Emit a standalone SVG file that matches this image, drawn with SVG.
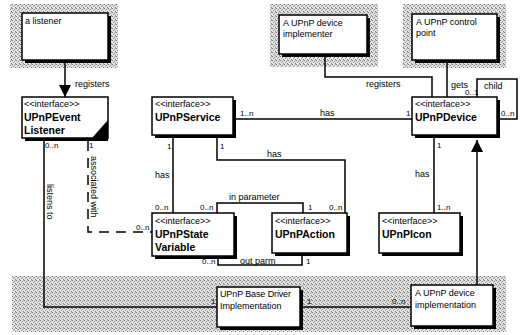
<svg xmlns="http://www.w3.org/2000/svg" width="526" height="335" viewBox="0 0 526 335">
<defs>
<pattern id="dither" width="4" height="4" patternUnits="userSpaceOnUse">
<rect width="4" height="4" fill="#e4e4e4"/>
<rect x="0" y="0" width="1" height="1" fill="#777"/>
<rect x="2" y="1" width="1" height="1" fill="#8c8c8c"/>
<rect x="1" y="2" width="1" height="1" fill="#9a9a9a"/>
<rect x="3" y="3" width="1" height="1" fill="#808080"/>
<rect x="3" y="0" width="1" height="1" fill="#b0b0b0"/>
</pattern>
<marker id="fill" viewBox="0 0 12 12" refX="12" refY="6" markerWidth="12" markerHeight="12" markerUnits="userSpaceOnUse" orient="auto">
<path d="M0,0 L12,6 L0,12 Z" fill="black"/>
</marker>
</defs>
<style>
.bg{fill:url(#dither)}
.sh{fill:#000}
.box{fill:#fff;stroke:#000;stroke-width:1.5}
.ln{fill:none;stroke:#000;stroke-width:1.5}
.dash{fill:none;stroke:#000;stroke-width:1.5;stroke-dasharray:10 7}
text{font-family:"Liberation Sans",Arial,sans-serif;font-size:9px;fill:#000}
.b{font-weight:bold;font-size:10.5px}
.m{font-size:8px}
</style>
<rect width="526" height="335" fill="#fff"/>
<g id="backgrounds">
<rect class="bg" x="10" y="4" width="108" height="64"/>
<rect class="bg" x="270" y="4" width="108" height="63"/>
<rect class="bg" x="403" y="4" width="103" height="64"/>
<rect class="bg" x="12" y="276" width="494" height="56"/>
</g>
<g id="connectors">
<line class="ln" x1="65" y1="63" x2="65" y2="97" marker-end="url(#fill)"/>
<text x="75" y="87">registers</text>
<polyline class="ln" points="325,57 325,77 432,77 432,97"/>
<text x="366" y="87">registers</text>
<line class="ln" x1="447" y1="63" x2="447" y2="97"/>
<text x="451" y="88">gets</text>
<text class="m" x="465" y="95">0..1</text>
<polyline class="ln" points="500,119 517,119 517,79 477,79 477,97"/>
<text x="484" y="89">child</text>
<text class="m" x="501" y="116">0..n</text>
<line class="ln" x1="236" y1="119" x2="412" y2="119"/>
<text class="m" x="240" y="116">1..n</text>
<text x="320" y="116">has</text>
<text class="m" x="406" y="116">1</text>
<line class="ln" x1="173" y1="138" x2="173" y2="213"/>
<text class="m" x="167" y="149">1</text>
<text x="155" y="178">has</text>
<text class="m" x="155" y="210">0..n</text>
<polyline class="ln" points="217,138 217,160 345,160 345,213"/>
<text class="m" x="220" y="149">1</text>
<text x="267" y="157">has</text>
<text class="m" x="329" y="210">0..n</text>
<polyline class="ln" points="217,213 217,203 303,203 303,213"/>
<text x="229" y="200">in parameter</text>
<text class="m" x="200" y="210">0..n</text>
<text class="m" x="308" y="210">1</text>
<polyline class="ln" points="218,259 218,265 302,265 302,256"/>
<text x="240" y="264">out parm</text>
<text class="m" x="202" y="264">0..n</text>
<text class="m" x="306" y="264">1</text>
<line class="ln" x1="434" y1="138" x2="434" y2="213"/>
<text class="m" x="437" y="148">1</text>
<text x="415" y="177">has</text>
<text class="m" x="437" y="210">1..n</text>
<line class="ln" x1="477" y1="285" x2="477" y2="140" marker-end="url(#fill)"/>
<polyline class="ln" points="44,141 44,307 217,307"/>
<text class="m" x="45" y="148">0..n</text>
<text class="m" x="211" y="304">1</text>
<text transform="translate(47,184) rotate(90)">listens to</text>
<polyline class="dash" points="88,141 88,232 152,232"/>
<text class="m" x="89" y="148">1</text>
<text transform="translate(91,156) rotate(90)">associated with</text>
<text class="m" x="136" y="230">0..n</text>
<line class="ln" x1="303" y1="307" x2="411" y2="307"/>
<text class="m" x="307" y="304">1</text>
<text class="m" x="392" y="304">0..n</text>
</g>
<g id="a-listener">
<rect class="sh" x="25" y="16" width="86" height="47"/>
<rect class="box" x="22" y="13" width="86" height="47"/>
<text x="25" y="24">a listener</text>
</g>
<g id="device-implementer">
<rect class="sh" x="282" y="18" width="88" height="39"/>
<rect class="box" x="279" y="15" width="88" height="39"/>
<text x="283" y="26">A  UPnP device</text>
<text x="283" y="37">implementer</text>
</g>
<g id="control-point">
<rect class="sh" x="415" y="17" width="85" height="46"/>
<rect class="box" x="412" y="14" width="85" height="46"/>
<text x="416" y="25">A UPnP control</text>
<text x="416" y="36">point</text>
</g>
<g id="UPnPEventListener">
<rect class="sh" x="25" y="100" width="83" height="41"/>
<rect class="box" x="22" y="97" width="86" height="41"/>
<polygon class="sh" points="92,138 108,138 108,120"/>
<text x="24" y="107">&lt;&lt;interface&gt;&gt;</text>
<text class="b" x="24" y="121">UPnPEvent</text>
<text class="b" x="24" y="134">Listener</text>
</g>
<g id="UPnPService">
<rect class="sh" x="155" y="100" width="81" height="38"/>
<rect class="box" x="152" y="97" width="81" height="38"/>
<text x="155" y="107">&lt;&lt;interface&gt;&gt;</text>
<text class="b" x="155" y="121">UPnPService</text>
</g>
<g id="UPnPDevice">
<rect class="sh" x="415" y="100" width="85" height="38"/>
<rect class="box" x="412" y="97" width="85" height="38"/>
<text x="415" y="107">&lt;&lt;interface&gt;&gt;</text>
<text class="b" x="415" y="121">UPnPDevice</text>
</g>
<g id="UPnPStateVariable">
<rect class="sh" x="155" y="216" width="82" height="43"/>
<rect class="box" x="152" y="213" width="82" height="43"/>
<text x="155" y="224">&lt;&lt;interface&gt;&gt;</text>
<text class="b" x="155" y="238">UPnPState</text>
<text class="b" x="155" y="251">Variable</text>
</g>
<g id="UPnPAction">
<rect class="sh" x="275" y="216" width="75" height="40"/>
<rect class="box" x="272" y="213" width="75" height="40"/>
<text x="275" y="224">&lt;&lt;interface&gt;&gt;</text>
<text class="b" x="275" y="238">UPnPAction</text>
</g>
<g id="UPnPIcon">
<rect class="sh" x="382" y="216" width="81" height="40"/>
<rect class="box" x="379" y="213" width="81" height="40"/>
<text x="382" y="224">&lt;&lt;interface&gt;&gt;</text>
<text class="b" x="382" y="238">UPnPIcon</text>
</g>
<g id="base-driver">
<rect class="sh" x="220" y="290" width="83" height="40"/>
<rect class="box" x="217" y="287" width="83" height="40"/>
<text x="220" y="297" textLength="71">UPnP Base Driver</text>
<text x="220" y="309">Implementation</text>
</g>
<g id="device-implementation">
<rect class="sh" x="414" y="288" width="82" height="41"/>
<rect class="box" x="411" y="285" width="82" height="41"/>
<text x="415" y="296">A  UPnP device</text>
<text x="415" y="308">implementation</text>
</g>
</svg>
